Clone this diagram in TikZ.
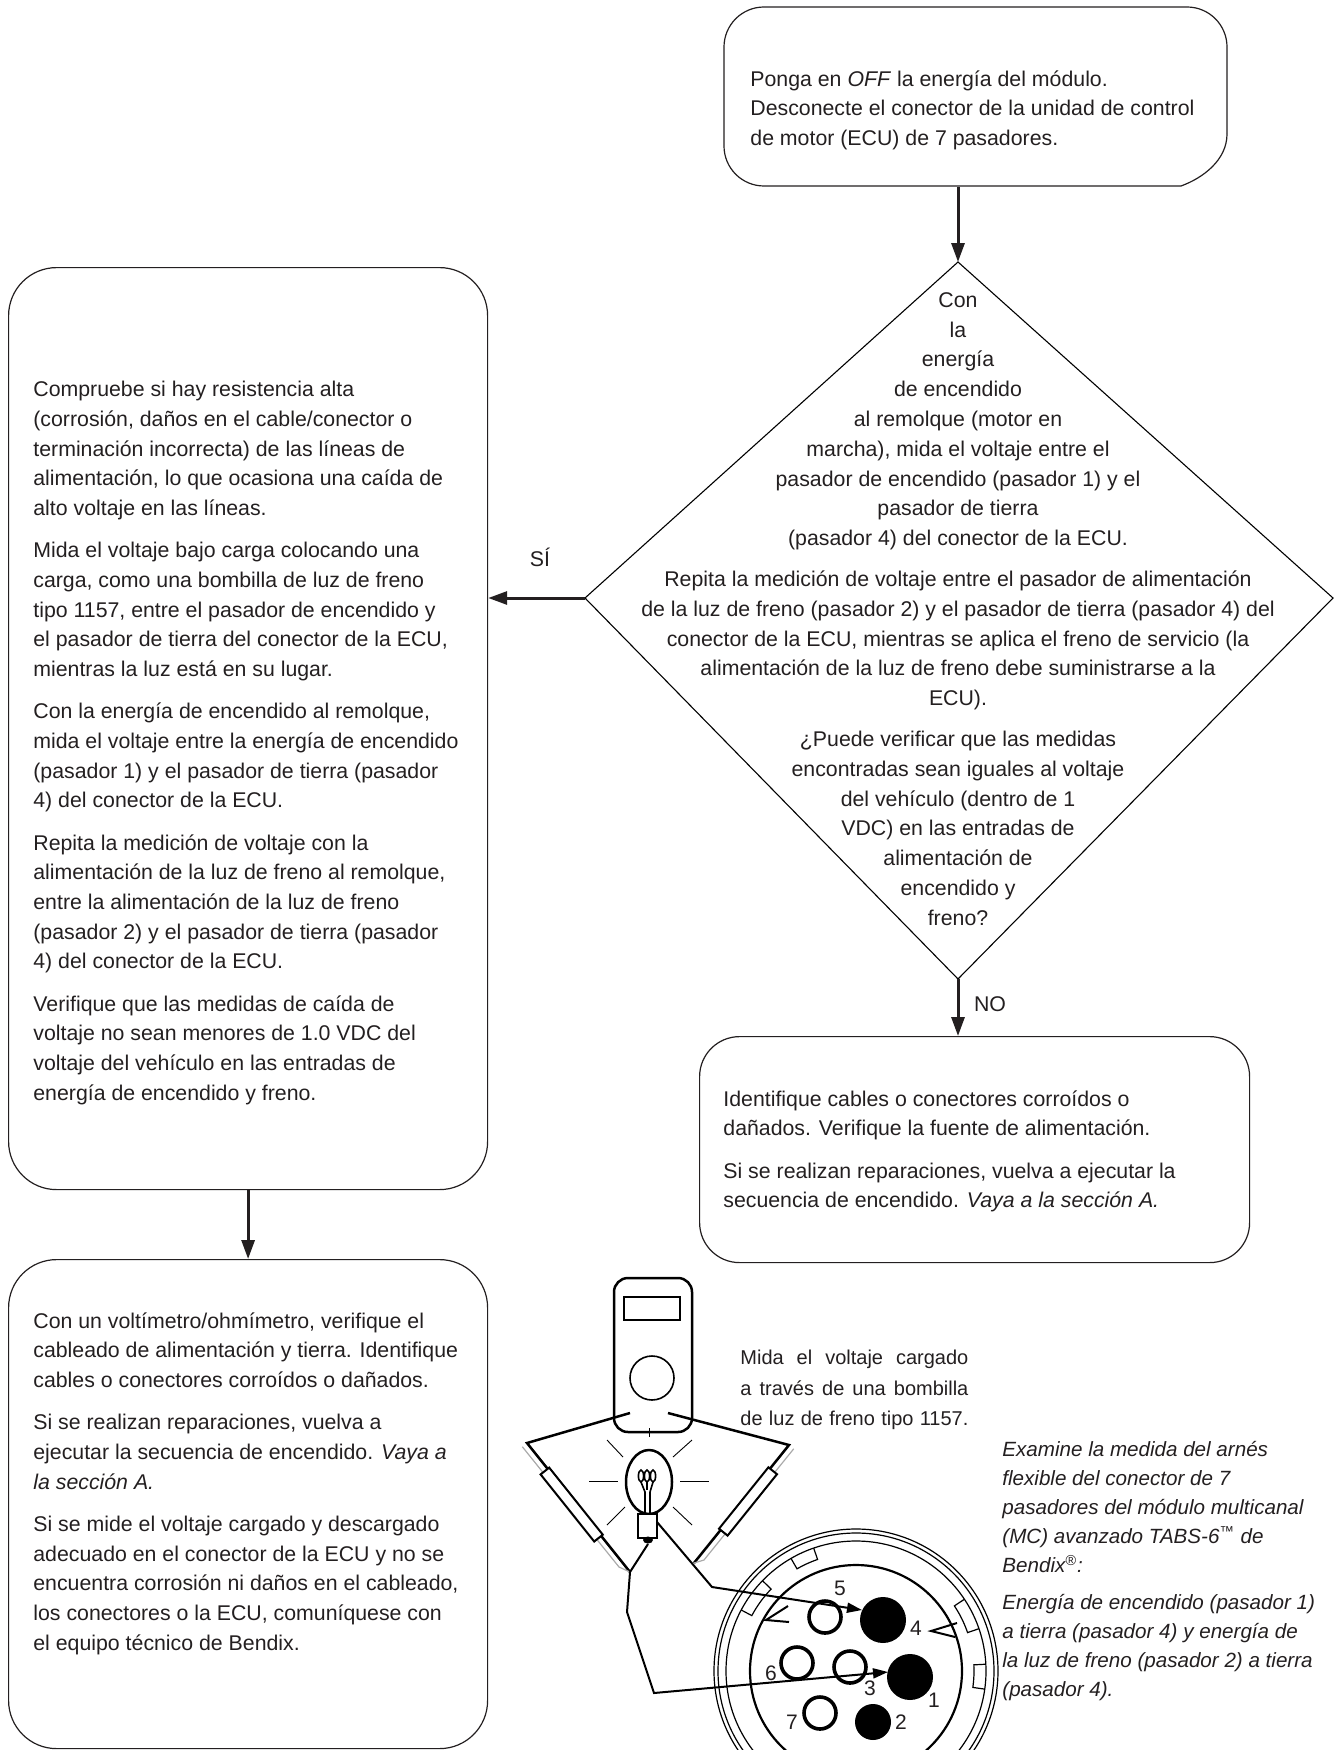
\documentclass[tikz,border=0pt]{standalone}
\usepackage{fontspec}
\setmainfont{Liberation Sans}
\usetikzlibrary{positioning,arrows.meta,calc}

\definecolor{InkGray}{RGB}{35,31,32}
\definecolor{ProbeGray}{RGB}{170,170,170}

% chart text: Arial metrics with loose leading
\newcommand{\chartfont}{\fontsize{10.65}{14.8}\selectfont}

\tikzset{
  stepbox/.style={draw=InkGray,line width=0.6pt,rounded corners=24pt,anchor=north west,inner sep=0pt},
  steptext/.style={anchor=north west,align=left,inner sep=0pt,text=InkGray,font=\chartfont},
  arrow/.style={-{Triangle[length=9.5pt,width=6.5pt]},line width=1.5pt,draw=InkGray},
  pinarrow/.style={-{Triangle[length=7.5pt,width=5pt]},line width=1pt},
  heavy/.style={line width=1.25pt},
  ray/.style={line width=0.45pt},
  pinno/.style={inner sep=0pt,text=InkGray,font=\fontsize{10.5}{12}\selectfont},
}

\begin{document}
\begin{tikzpicture}[x=0.5pt,y=-0.5pt]
\useasboundingbox (0,0) rectangle (1335,1750);

% power off step (its lower right corner is cut on a slant)
\node[stepbox,draw=none,minimum width=251.5pt,minimum height=89.5pt] (offbox) at (724,7) {};
\draw[draw=InkGray,line width=0.6pt,rounded corners=20pt]
  (1181,186) -- (724,186) -- (724,7) -- (1227,7) -- (1227,134);
\draw[draw=InkGray,line width=0.6pt] (1227,134) .. controls (1227,160) and (1203,178) .. (1181,186);
\node[steptext] (offtxt) at (750,70)
  {Ponga en \textit{OFF} la energía del módulo.\\
   Desconecte el conector de la unidad de control\\
   de motor (ECU) de 7 pasadores.};

% decision diamond (lower half is taller)
\coordinate (dtop) at (958,262);
\coordinate (dleft) at (585,598);
\coordinate (dbot) at (958,979);
\coordinate (dright) at (1333,598);
\draw[line width=0.55pt] (dtop) -- (dright) -- (dbot) -- (dleft) -- cycle;
\node[steptext,anchor=north,align=center,font=\fontsize{10.65}{14.9}\selectfont] (asktxt) at (958,292)
  {Con\\
   la\\
   energía\\
   de encendido\\
   al remolque (motor en\\
   marcha), mida el voltaje entre el\\
   pasador de encendido (pasador 1) y el\\
   pasador de tierra\\
   (pasador 4) del conector de la ECU.\\[5.5pt]
   Repita la medición de voltaje entre el pasador de alimentación\\
   de la luz de freno (pasador 2) y el pasador de tierra (pasador 4) del\\
   conector de la ECU, mientras se aplica el freno de servicio (la\\
   alimentación de la luz de freno debe suministrarse a la\\
   ECU).\\[5.5pt]
   ¿Puede verificar que las medidas\\
   encontradas sean iguales al voltaje\\
   del vehículo (dentro de 1\\
   VDC) en las entradas de\\
   alimentación de\\
   encendido y\\
   freno?};

% voltage drop check
\node[stepbox,minimum width=239.5pt,minimum height=461pt] (dropbox) at (8,267) {};
\node[steptext] (droptxt) at (33,381)
  {Compruebe si hay resistencia alta\\
   (corrosión, daños en el cable/conector o\\
   terminación incorrecta) de las líneas de\\
   alimentación, lo que ocasiona una caída de\\
   alto voltaje en las líneas.\\[6.5pt]
   Mida el voltaje bajo carga colocando una\\
   carga, como una bombilla de luz de freno\\
   tipo 1157, entre el pasador de encendido y\\
   el pasador de tierra del conector de la ECU,\\
   mientras la luz está en su lugar.\\[6.5pt]
   Con la energía de encendido al remolque,\\
   mida el voltaje entre la energía de encendido\\
   (pasador 1) y el pasador de tierra (pasador\\
   4) del conector de la ECU.\\[6.5pt]
   Repita la medición de voltaje con la\\
   alimentación de la luz de freno al remolque,\\
   entre la alimentación de la luz de freno\\
   (pasador 2) y el pasador de tierra (pasador\\
   4) del conector de la ECU.\\[6.5pt]
   Verifique que las medidas de caída de\\
   voltaje no sean menores de 1.0 VDC del\\
   voltaje del vehículo en las entradas de\\
   energía de encendido y freno.};

% repair step on the NO branch
\node[stepbox,rounded corners=20pt,minimum width=275pt,minimum height=113pt] (repairbox) at (699,1036) {};
\node[steptext] (repairtxt) at (723,1090)
  {Identifique cables o conectores corroídos o\\
   dañados. Verifique la fuente de alimentación.\\[6.5pt]
   Si se realizan reparaciones, vuelva a ejecutar la\\
   secuencia de encendido. \textit{Vaya a la sección A.}};

% wiring check
\node[stepbox,minimum width=239.5pt,minimum height=244.5pt] (wirebox) at (8,1259) {};
\node[steptext] (wiretxt) at (33,1312)
  {Con un voltímetro/ohmímetro, verifique el\\
   cableado de alimentación y tierra. Identifique\\
   cables o conectores corroídos o dañados.\\[6.5pt]
   Si se realizan reparaciones, vuelva a\\
   ejecutar la secuencia de encendido. \textit{Vaya a}\\
   \textit{la sección A.}\\[6.5pt]
   Si se mide el voltaje cargado y descargado\\
   adecuado en el conector de la ECU y no se\\
   encuentra corrosión ni daños en el cableado,\\
   los conectores o la ECU, comuníquese con\\
   el equipo técnico de Bendix.};

% flow arrows
\draw[arrow] (offbox.south -| dtop) -- (dtop);
\draw[arrow] (dleft) -- (dropbox.east |- dleft);
\draw[arrow] (dbot) -- (repairbox.north -| dbot);
\draw[arrow] (dropbox.south) -- (wirebox.north);
\node[font=\chartfont,text=InkGray] (yes) at (540,557) {SÍ};
\node[font=\chartfont,text=InkGray] (no) at (990,1004) {NO};

% 7-pin connector face
\begin{scope}
  \clip (690,1490) rectangle (1015,1750);
  \draw[line width=0.6pt] (856,1671) circle (142);
  \draw[line width=0.6pt] (856,1671) circle (138);
  \draw[line width=0.6pt] (856,1671) circle (130);
  \draw[line width=1.1pt] (856,1671) circle (106);
  \begin{scope}[shift={(856,1671)}]
    \foreach \a/\b in {-109/-120,-136/-152,-19/-33.5,8/-3}
      \draw[line width=0.6pt] (\a:130) -- (\a:118) arc[start angle=\a,end angle=\b,radius=118] -- (\b:130);
  \end{scope}
  \draw[line width=1pt] (788,1606) -- (766,1620) -- (789,1622);
  \draw[line width=1pt] (957,1623) -- (931,1631) -- (955,1637);
  \node[pinno] (n5) at (840,1588) {5};
  \node[pinno] (n4) at (916,1628) {4};
  \node[pinno] (n6) at (771,1673) {6};
  \node[pinno] (n3) at (870,1688) {3};
  \node[pinno] (n1) at (934,1700) {1};
  \node[pinno] (n7) at (792,1722) {7};
  \node[pinno] (n2) at (901,1722) {2};
  \fill (883,1620) circle (23);
  \fill (910,1677) circle (23);
  \fill (873,1722) circle (18);
  \foreach \p in {(825,1617),(797,1663),(850,1667),(820,1713)}
    \draw[line width=1.8pt,fill=white] \p circle (16);
\end{scope}

% meter with its two probes
\draw[heavy,rounded corners=7pt] (614,1278) rectangle (692,1432);
\draw[line width=0.8pt] (624,1297) rectangle (680,1320);
\draw[line width=0.8pt] (652,1378) circle (22);
\draw[heavy] (630,1413) -- (527,1443) -- (630,1572);
\draw[heavy] (668,1413) -- (789,1445) -- (694,1563);
\draw[ProbeGray,line width=0.6pt] (522.3,1446.7) -- (619,1567) -- (630,1572);
\draw[ProbeGray,line width=0.6pt] (793.7,1448.8) -- (704,1560) -- (694,1563);
\draw[line width=1pt,fill=white] (549.2,1467.6) -- (540.6,1474.4) -- (594.2,1541.5) -- (602.8,1534.7) -- cycle;
\draw[line width=1pt,fill=white] (768.4,1467.3) -- (777.0,1474.2) -- (727.6,1535.6) -- (719.0,1528.7) -- cycle;

% brake light bulb
\foreach \s/\e in {{(649,1428)}/{(649,1437)},{(589,1481)}/{(618,1481)},{(680,1481)}/{(709,1481)},
                   {(607,1440)}/{(623,1457)},{(692,1440)}/{(673,1457)},
                   {(607,1525)}/{(625,1507)},{(692,1525)}/{(673,1507)}}
  \draw[ray] \s -- \e;
\draw[heavy,fill=white] (649,1482) ellipse [x radius=23,y radius=32];
\foreach \x in {641,647,653}
  \draw[line width=0.8pt] (\x,1476) ellipse [x radius=2.6,y radius=6];
\draw[line width=0.8pt] (641,1482) -- (645,1492) -- (645,1514);
\draw[line width=0.8pt] (653,1482) -- (650,1492) -- (650,1514);
\draw[line width=0.8pt] (647,1482) -- (647,1490);
\draw[heavy,fill=white] (638,1514) rectangle (657,1538);
\fill (648,1540) ellipse [x radius=5,y radius=3.5];

% bulb leads into pins 1 and 4
\draw[pinarrow] (648,1544) -- (630,1572) -- (627,1612) -- (654,1693) -- (888,1672);
\draw[pinarrow] (657,1522) -- (712,1587) -- (862,1610);

% notes beside the sketch
\node[steptext,font=\fontsize{10}{15.2}\selectfont] (meternote) at (740,1350)
  {\makebox[114pt][s]{Mida el voltaje cargado}\\
   \makebox[114pt][s]{a través de una bombilla}\\
   \makebox[114pt][s]{de luz de freno tipo 1157.}};
\node[steptext,font=\fontsize{10.3}{14.5}\selectfont\itshape] (harnesstxt) at (1002,1441)
  {Examine la medida del arnés\\
   flexible del conector de 7\\
   pasadores del módulo multicanal\\
   (MC) avanzado TABS-6\textsuperscript{™} de\\
   Bendix\textsuperscript{®}:\\[4pt]
   Energía de encendido (pasador 1)\\
   a tierra (pasador 4) y energía de\\
   la luz de freno (pasador 2) a tierra\\
   (pasador 4).};
\end{tikzpicture}
\end{document}
